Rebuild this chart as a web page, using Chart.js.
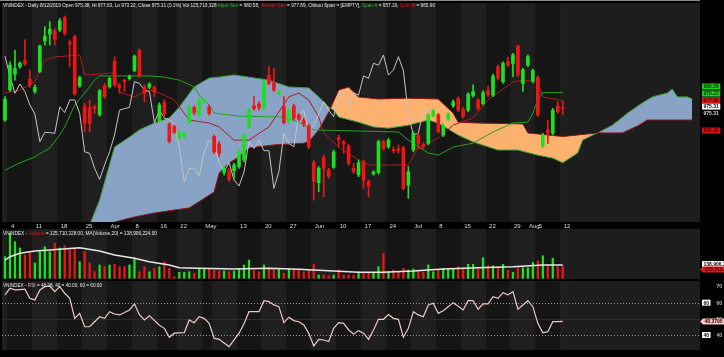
<!DOCTYPE html>
<html>
<head>
<meta charset="utf-8">
<script src="https://cdn.jsdelivr.net/npm/chart.js@4.4.1/dist/chart.umd.min.js"></script>
<style>
  html, body { margin: 0; padding: 0; background: #000; }
  #wrap { position: relative; width: 724px; height: 357px; overflow: hidden; background: #000; }
  canvas { position: absolute; left: 0; }
</style>
</head>
<body>
<div id="wrap">
  <canvas id="priceChart" width="724" height="229" style="top:0"></canvas>
  <canvas id="volChart" width="724" height="50" style="top:229px"></canvas>
  <canvas id="rsiChart" width="724" height="69" style="top:281px"></canvas>
</div>
<script>
// session index: 0 = 1 Mar 2019 ... 112 = 12 Aug 2019
const tickIdx  = [1, 6, 11, 16, 21, 26, 31, 35, 40, 47, 52, 57, 62, 67, 72, 77, 82, 87, 92, 97, 102, 105, 107, 112];
const tickText = ['4', '11', '18', '25', 'Apr', '8', '16', '22', 'May', '13', '20', '27', 'Jun', '10', '17', '24', 'Jul', '8', '15', '22', '29', 'Aug', '5', '12'];
const weekStarts = [0, 1, 6, 11, 16, 21, 26, 31, 35, 40, 42, 47, 52, 57, 62, 67, 72, 77, 82, 87, 92, 97, 102, 107, 112];

const opens = [
  971.4, 981.4, 986.7, 989.2, 991.2, 985.0, 980.9, 987.5, 997.8, 1000.0,
  1001.2, 1001.4, 1005.6, 997.2, 999.2, 982.7, 975.8, 975.6, 975.8, 973.1,
  982.9, 982.5, 990.9, 982.9, 984.7, 985.2, 987.9, 994.7, 982.3, 982.3,
  982.3, 971.2, 977.2, 970.1, 969.2, 965.6, 966.1, 970.5, 975.6, 973.1,
  977.5, 975.8, 965.9, 963.4, 953.9, 954.7, 954.5, 955.9, 958.1, 969.0,
  976.1, 976.7, 975.3, 986.4, 983.8, 980.1, 975.8, 970.9, 976.1, 973.1,
  971.2, 969.4, 957.2, 950.5, 958.9, 954.7, 955.6, 965.6, 964.2, 962.7,
  955.3, 953.1, 957.5, 950.9, 953.4, 953.9, 964.2, 962.5, 961.6, 961.8,
  962.2, 949.7, 961.4, 966.4, 963.1, 963.6, 972.7, 973.1, 966.4, 971.6,
  976.1, 978.6, 974.9, 974.7, 979.5, 978.1, 976.9, 981.2, 979.7, 989.2,
  984.2, 990.8, 990.3, 996.1, 983.6, 989.7, 984.5, 985.6, 962.7, 968.1,
  967.0, 976.1, 975.38
];
const highs = [
  979.2, 990.8, 994.7, 990.8, 998.1, 988.1, 983.1, 996.4, 1002.5, 1004.2,
  1002.0, 1005.3, 1006.1, 998.1, 999.7, 986.1, 977.0, 978.1, 976.4, 981.6,
  983.6, 985.8, 992.5, 983.6, 985.0, 986.4, 993.1, 995.0, 983.1, 983.8,
  982.7, 977.2, 978.1, 970.5, 969.7, 968.1, 967.5, 976.4, 976.1, 978.6,
  978.4, 976.4, 966.4, 964.2, 955.9, 955.3, 957.0, 961.4, 967.0, 975.3,
  979.2, 977.5, 984.7, 989.2, 988.6, 981.2, 979.2, 975.3, 976.7, 973.6,
  972.0, 970.1, 957.9, 955.9, 959.7, 955.3, 961.4, 966.4, 964.7, 963.4,
  957.0, 958.1, 958.1, 951.4, 954.5, 964.7, 964.7, 965.3, 962.5, 963.1,
  962.7, 955.9, 967.5, 967.0, 963.8, 973.6, 975.0, 973.6, 970.3, 973.8,
  978.1, 979.2, 975.6, 980.5, 983.1, 978.6, 981.2, 982.7, 986.7, 989.7,
  990.8, 992.3, 993.6, 996.4, 988.6, 993.1, 988.3, 986.1, 967.0, 971.4,
  975.3, 977.5, 977.63
];
const lows = [
  970.9, 980.9, 984.7, 988.6, 989.6, 982.3, 980.3, 987.2, 996.4, 996.4,
  996.4, 1000.9, 999.7, 989.2, 979.7, 982.3, 967.5, 967.5, 973.6, 972.7,
  978.6, 982.0, 982.5, 980.3, 980.9, 984.7, 987.5, 985.6, 977.5, 981.8,
  979.2, 970.5, 972.5, 963.8, 966.9, 964.7, 965.3, 970.1, 973.1, 972.5,
  977.2, 973.1, 960.3, 959.2, 953.1, 950.9, 952.0, 955.3, 957.5, 968.6,
  974.7, 974.7, 974.7, 983.1, 980.9, 979.7, 970.1, 970.3, 971.4, 971.2,
  969.2, 961.9, 944.7, 947.5, 945.8, 952.0, 955.3, 962.5, 960.3, 956.4,
  953.6, 952.5, 948.6, 945.8, 953.0, 953.4, 961.4, 961.9, 960.5, 960.3,
  948.1, 945.3, 960.8, 961.9, 961.9, 963.1, 972.3, 967.0, 965.9, 971.2,
  975.6, 974.2, 972.0, 974.2, 979.0, 974.7, 976.4, 979.2, 979.2, 984.7,
  983.6, 989.2, 985.8, 985.8, 980.9, 989.2, 983.8, 972.5, 962.3, 963.6,
  966.4, 973.6, 973.22
];
const closes = [
  978.3, 989.7, 988.6, 990.3, 990.0, 983.1, 982.3, 996.1, 999.4, 1001.7,
  998.3, 1004.5, 1000.3, 996.7, 980.1, 985.6, 970.3, 970.3, 975.3, 981.2,
  979.2, 985.3, 983.1, 982.3, 984.2, 986.1, 992.7, 986.1, 980.3, 983.4,
  980.9, 976.4, 973.4, 964.2, 967.3, 967.2, 967.0, 975.8, 973.9, 978.1,
  978.1, 973.6, 960.8, 960.3, 955.3, 951.6, 956.4, 960.8, 966.4, 974.7,
  975.2, 975.6, 984.2, 983.6, 981.4, 980.9, 970.5, 974.7, 972.0, 971.6,
  970.1, 962.5, 950.9, 955.3, 955.3, 952.7, 960.8, 964.7, 963.4, 957.0,
  954.2, 957.2, 951.4, 949.4, 954.1, 964.2, 961.9, 964.7, 961.2, 961.2,
  948.6, 954.2, 967.0, 963.6, 962.5, 973.1, 974.5, 967.5, 969.7, 973.4,
  977.5, 974.7, 972.5, 980.1, 980.9, 975.2, 980.5, 979.7, 986.1, 985.3,
  990.3, 989.7, 993.1, 986.4, 988.1, 992.5, 987.9, 973.1, 966.4, 967.0,
  974.7, 974.2, 975.31
];
// volume in millions of shares
const volumes = [
  227, 472, 384, 318, 245, 266, 161, 279, 332, 279,
  368, 318, 342, 318, 318, 174, 279, 161, 69, 140,
  122, 140, 147, 122, 122, 140, 213, 69, 122, 69,
  105, 122, 174, 105, 17, 63, 63, 69, 53, 105,
  105, 105, 87, 77, 77, 69, 77, 105, 140, 192,
  87, 69, 140, 105, 105, 105, 53, 98, 87, 87,
  69, 87, 147, 35, 35, 27, 35, 87, 35, 35,
  35, 69, 53, 53, 63, 122, 263, 69, 87, 69,
  105, 87, 98, 69, 63, 140, 69, 87, 105, 98,
  98, 122, 105, 147, 147, 111, 216, 132, 132, 122,
  147, 87, 63, 122, 111, 111, 168, 182, 237, 132,
  210, 122, 125.710328
];
const volMA = [[0, 192], [1, 227], [3, 263], [6, 287], [9, 297], [15, 321], [19, 287], [22, 245], [26, 210], [29, 174],
  [33, 140], [35, 111], [39, 105], [46, 98], [53, 105], [59, 95], [66, 77], [71, 63], [76, 63], [82, 77],
  [88, 98], [95, 111], [102, 122], [108, 140], [112, 138.906224]];

// ichimoku lines: [session, price]
const tenkan = [[0, 980.4], [3, 981.4], [6, 984.1], [7, 988.1], [8, 991.4], [10, 992.4], [15, 993.1], [16, 986.4], [22, 987.1], [23, 980.7],
  [26, 979.1], [29, 981.4], [31, 980.4], [34, 978.1], [37, 971.4], [41, 970.4], [43, 969.1], [46, 964.7], [49, 964.7], [53, 969.1],
  [57, 979.1], [59, 980.4], [61, 978.1], [63, 972.4], [64, 967.1], [67, 962.4], [71, 958.1], [73, 956.4], [81, 956.4], [83, 962.4],
  [85, 963.7], [87, 965.4], [90, 969.7], [94, 972.1], [97, 978.1], [102, 984.1], [104, 984.7], [107, 984.1], [108, 979.1], [112, 977.89]];
const kijun = [[0, 954.7], [3, 957.1], [6, 959.1], [9, 962.1], [11, 966.4], [12, 969.1], [14, 976.4], [16, 980.4], [18, 984.7], [19, 986.1],
  [29, 986.1], [32, 985.7], [35, 984.7], [38, 982.4], [39, 979.7], [41, 976.4], [42, 973.7], [47, 972.7], [56, 972.4], [59, 970.7],
  [62, 968.1], [79, 967.4], [81, 964.7], [85, 960.4], [87, 959.7], [90, 962.4], [94, 963.7], [98, 967.4], [102, 970.4], [105, 970.7],
  [106, 973.7], [107, 978.1], [108, 980.58], [112, 980.58]];
const spanA = [[17, 936.4], [19, 944.7], [22, 962.4], [25, 965.7], [27, 968.1], [30, 970.4], [33, 972.1], [35, 975.7], [38, 982.4], [41, 985.4],
  [43, 985.7], [46, 986.4], [53, 984.7], [57, 982.4], [61, 982.1], [63, 979.1], [65, 975.7], [66, 974.7], [67, 972.4], [71, 970.7],
  [74, 969.1], [77, 968.7], [81, 969.7], [85, 971.4], [87, 970.4], [91, 966.4], [94, 964.1], [99, 961.4], [103, 961.4], [107, 959.7],
  [110, 958.7], [112, 957.19], [115, 960.4], [116, 964.7], [118, 966.4], [119, 967.1], [122, 969.7], [125, 973.7], [128, 977.1], [130, 979.1],
  [133, 980.4], [134, 981.7], [135, 979.1], [137, 979.1], [138, 978.4]];
const spanB = [[17, 933.0], [22, 937.4], [26, 939.1], [30, 940.4], [34, 941.4], [37, 942.1], [42, 947.4], [43, 953.7], [45, 957.1], [47, 959.1],
  [49, 962.1], [54, 963.1], [60, 963.7], [61, 964.1], [63, 968.1], [65, 974.0], [67, 981.4], [69, 982.4], [71, 979.1], [75, 978.4],
  [81, 978.7], [87, 978.4], [90, 973.7], [91, 970.7], [95, 970.4], [104, 970.1], [105, 967.1], [112, 965.9], [119, 967.1], [124, 967.1],
  [127, 969.4], [129, 971.4], [138, 971.4]];

const rsi = [
  64.8, 68.9, 67.9, 68.1, 68.3, 62.7, 61.7, 67.9, 69.9, 70.3,
  66.8, 69.9, 65.8, 62.7, 50.3, 53.4, 45.1, 45.1, 48.2, 51.3,
  50.3, 54.4, 53.0, 52.4, 53.9, 55.5, 59.2, 52.5, 49.3, 51.8,
  49.0, 46.0, 44.1, 38.6, 41.1, 41.3, 41.4, 49.3, 47.6, 51.3,
  50.3, 47.2, 38.0, 37.3, 35.0, 32.8, 37.0, 41.1, 47.0, 54.4,
  54.4, 54.4, 61.2, 60.6, 58.6, 57.5, 47.6, 51.0, 48.9, 48.2,
  46.2, 41.0, 33.2, 37.3, 36.9, 35.9, 44.1, 47.6, 47.2, 43.1,
  40.6, 42.7, 41.1, 37.3, 43.1, 49.7, 49.7, 52.6, 50.3, 49.7,
  38.6, 44.1, 54.4, 52.4, 51.3, 58.6, 59.6, 53.4, 55.0, 57.5,
  60.0, 57.8, 55.5, 61.2, 61.2, 55.9, 59.2, 59.2, 63.7, 62.7,
  66.2, 64.8, 66.8, 55.9, 58.5, 61.2, 57.5, 47.2, 41.4, 42.0,
  48.2, 48.2, 48.3795
];
const rsiLevels = [40, 60];

const X_MIN = -0.6, X_MAX = 139.56;
const LIGHT = '#1f1f1f', DARK = '#151515', FUTURE = '#1d1d1d';
const UP = '#1fe01f', DOWN = '#ee1515';
const FONT = '"Liberation Sans", Arial, sans-serif';

const pt = arr => arr.map(([x, y]) => ({ x, y }));
const dirColors = closes.map((c, i) => (c >= opens[i] ? UP : DOWN));

/**
 * Draw a row of coloured text parts squeezed to a fixed width
 */
function drawRich(ctx, parts, x, y, width) {
  ctx.save();
  ctx.font = '6px ' + FONT;
  ctx.textBaseline = 'top';
  const total = parts.reduce((w, p) => w + ctx.measureText(p[0]).width, 0);
  ctx.translate(x, y);
  ctx.scale(width / total, 1);
  let cx = 0;
  parts.forEach(([t, c]) => {
    ctx.fillStyle = c;
    ctx.fillText(t, cx, 0);
    cx += ctx.measureText(t).width;
  });
  ctx.restore();
}

function drawTag(ctx, x, y, text, bg, fg, arrow) {
  ctx.save();
  ctx.font = 'bold 5px ' + FONT;
  ctx.textBaseline = 'middle';
  const w = ctx.measureText(text).width + 3;
  const x0 = arrow ? x + 3 : x;
  if (bg) {
    ctx.fillStyle = bg;
    ctx.beginPath();
    if (arrow) {
      ctx.moveTo(x, y); ctx.lineTo(x0, y - 3); ctx.lineTo(x0 + w, y - 3);
      ctx.lineTo(x0 + w, y + 3); ctx.lineTo(x0, y + 3); ctx.closePath();
    } else {
      ctx.rect(x0, y - 3, w, 6);
    }
    ctx.fill();
  }
  ctx.fillStyle = fg;
  ctx.fillText(text, x0 + 1.5, y + 0.5);
  ctx.restore();
}

// weekly stripes behind every panel
const bandsPlugin = {
  id: 'bands',
  beforeDraw(chart) {
    const { ctx, chartArea: a, scales: { x } } = chart;
    ctx.save();
    ctx.fillStyle = '#000';
    ctx.fillRect(0, 0, chart.width, chart.height);
    weekStarts.forEach((s, k) => {
      const e = weekStarts[k + 1] ?? closes.length;
      const x0 = Math.round(Math.max(a.left, x.getPixelForValue(s - 0.5)));
      const x1 = Math.round(x.getPixelForValue(e - 0.5));
      ctx.fillStyle = k % 2 ? DARK : LIGHT;
      ctx.fillRect(x0, a.top, x1 - x0, a.bottom - a.top);
    });
    const xf = Math.round(x.getPixelForValue(closes.length - 0.5));
    ctx.fillStyle = FUTURE;
    ctx.fillRect(xf, a.top, a.right - xf, a.bottom - a.top);
    ctx.restore();
  }
};

function captionPlugin(parts, width, y) {
  return { id: 'caption', afterDraw(chart) { drawRich(chart.ctx, parts, 3, y, width); } };
}

function tagsPlugin(tags, gap) {
  return {
    id: 'tags',
    afterDraw(chart) {
      const { ctx, scales: { y } } = chart;
      let last = -Infinity;
      tags.forEach(t => {
        let py = y.getPixelForValue(t.v) + (t.dy || 0);
        if (t.stack) { py = Math.max(py, last + gap); last = py; }
        drawTag(ctx, t.x, py, t.text, t.bg, t.fg, t.arrow);
      });
    }
  };
}

function baseOptions(yMin, yMax, withAxis) {
  return {
    responsive: false,
    animation: false,
    devicePixelRatio: 1,
    events: [],
    layout: { padding: { left: 2, top: withAxis ? 3 : 0, right: 0, bottom: 0 } },
    plugins: { legend: { display: false }, tooltip: { enabled: false } },
    scales: {
      x: withAxis ? {
        type: 'linear', min: X_MIN, max: X_MAX, offset: false,
        afterBuildTicks: s => { s.ticks = tickIdx.map(v => ({ value: v })); },
        afterFit: s => { s.height = 7; },
        ticks: {
          autoSkip: false, maxRotation: 0, align: 'start', padding: 1, labelOffset: 1,
          color: '#dcdcdc', font: { family: FONT, size: 6 },
          callback: v => tickText[tickIdx.indexOf(v)] ?? ''
        },
        grid: { display: false, drawTicks: false },
        border: { display: false }
      } : { type: 'linear', min: X_MIN, max: X_MAX, offset: false, display: false },
      y: {
        position: 'right', min: yMin, max: yMax,
        afterFit: s => { s.width = 24; },
        ticks: { display: false },
        grid: { display: false, drawTicks: false },
        border: { display: false }
      }
    }
  };
}

const lineDs = (data, color, order, extra) => Object.assign({
  type: 'line', data: pt(data), borderColor: color, borderWidth: 1,
  pointRadius: 0, tension: 0, fill: false, order
}, extra || {});

// price panel: cloud, lines, candles
new Chart(document.getElementById('priceChart'), {
  type: 'bar',
  data: {
    datasets: [
      lineDs(spanA, '#3aa83a', 10, { fill: { target: '+1', above: '#88a3c6', below: '#fdb16e' } }),
      lineDs(spanB, '#8c1515', 9),
      lineDs(kijun, '#23a023', 5),
      lineDs(tenkan, '#a81e1e', 5),
      {
        type: 'line', data: closes.slice(26).map((c, k) => ({ x: k, y: c })),
        borderColor: '#c4c4c4', borderWidth: 1, pointRadius: 0, tension: 0, fill: false, order: 4
      },
      {
        data: closes.map((c, i) => ({ x: i, y: [lows[i], highs[i]] })),
        backgroundColor: dirColors, barThickness: 1, grouped: false, borderWidth: 0, order: 2
      },
      {
        data: closes.map((c, i) => ({ x: i, y: [opens[i], c] })),
        backgroundColor: dirColors, barThickness: 3, grouped: false, borderWidth: 0, minBarLength: 1, order: 1
      }
    ]
  },
  options: baseOptions(937.41, 1010.41, true),
  plugins: [
    bandsPlugin,
    {
      id: 'topLine',
      afterDraw(chart) { chart.ctx.fillStyle = '#8a8a8a'; chart.ctx.fillRect(0, 0, chart.chartArea.right, 1); }
    },
    captionPlugin([
      ['VNINDEX - Daily 8/12/2019 Open 975.38, Hi 977.63, Lo 973.22, Close 975.31 (0.1%) Vol 125,710,328 ', '#e8e8e8'],
      ['Kijun-Sen', '#22c022'], [' = 980.58, ', '#e8e8e8'],
      ['Tenkan-Sen', '#e01818'], [' = 977.89, Chikou Span = [EMPTY], ', '#e8e8e8'],
      ['Span A', '#22c022'], [' = 957.19, ', '#e8e8e8'],
      ['Span B', '#e01818'], [' = 965.90', '#e8e8e8']
    ], 432, 2),
    tagsPlugin([
      { v: 980.58, dy: -6, stack: true, x: 702, text: '980.58', bg: '#1ed01e', fg: '#063006' },
      { v: 978.23, dy: -6, stack: true, x: 702, text: '978.23', bg: '#1ed01e', fg: '#063006' },
      { v: 977.89, dy: -6, stack: true, x: 702, text: '977.89', bg: '#e01414', fg: '#400000' },
      { v: 975.31, dy: -6, stack: true, x: 702, text: '975.31', bg: '#ffffff', fg: '#000' },
      { v: 975.31, dy: -6, stack: true, x: 702, text: '975.31', bg: null, fg: '#d8d8d8' },
      { v: 965.90, dy: -6, stack: true, x: 702, text: '965.90', bg: '#e01414', fg: '#400000' }
    ], 6.5)
  ]
});

// volume panel
new Chart(document.getElementById('volChart'), {
  type: 'bar',
  data: {
    datasets: [
      lineDs(volMA, '#e6e6e6', 1, { borderWidth: 1.5 }),
      {
        data: volumes.map((v, i) => ({ x: i, y: v })),
        backgroundColor: dirColors, barThickness: 1.6, grouped: false, borderWidth: 0, order: 2
      }
    ]
  },
  options: baseOptions(-7.35, 517.65, false),
  plugins: [
    bandsPlugin,
    captionPlugin([
      ['VNINDEX - ', '#e8e8e8'], ['Volume', '#e01818'],
      [' = 125,710,328.00, MA(Volume,20) = 138,906,224.00', '#e8e8e8']
    ], 154, 1),
    tagsPlugin([
      { v: 138.906224, dy: -1, stack: true, x: 702, text: '138,906.2', bg: '#ffffff', fg: '#000' },
      { v: 125.710328, stack: true, x: 700, text: '125,710.3', bg: '#e01414', fg: '#400000', arrow: true }
    ], 5.5)
  ]
});

// RSI panel
new Chart(document.getElementById('rsiChart'), {
  type: 'line',
  data: {
    datasets: [{
      data: rsi.map((v, i) => ({ x: i, y: v })),
      borderColor: '#ecc8c8', borderWidth: 1.2, pointRadius: 0, tension: 0, fill: false
    }]
  },
  options: baseOptions(30.7, 73.4, false),
  plugins: [
    bandsPlugin,
    {
      id: 'levels',
      beforeDatasetsDraw(chart) {
        const { ctx, chartArea: a, scales: { y } } = chart;
        ctx.save();
        ctx.lineWidth = 1;
        ctx.strokeStyle = '#2e2e2e';
        const p50 = Math.round(y.getPixelForValue(50)) + 0.5;
        ctx.beginPath(); ctx.moveTo(a.left, p50); ctx.lineTo(a.right, p50); ctx.stroke();
        ctx.setLineDash([1, 2]);
        ctx.strokeStyle = '#9a9a9a';
        rsiLevels.forEach(v => {
          const py = Math.round(y.getPixelForValue(v)) + 0.5;
          ctx.beginPath(); ctx.moveTo(a.left, py); ctx.lineTo(a.right, py); ctx.stroke();
        });
        ctx.restore();
      }
    },
    captionPlugin([
      ['VNINDEX - ', '#e8e8e8'], ['RSI', '#f0b8b8'],
      [' = 48.38, 40 = 40.00, 60 = 60.00', '#e8e8e8']
    ], 99, 1),
    tagsPlugin([
      { v: 70, x: 715, text: '70', bg: null, fg: '#bbbbbb' },
      { v: 60, x: 702, text: '60', bg: '#ffffff', fg: '#000' },
      { v: 60, x: 715, text: '60', bg: null, fg: '#bbbbbb' },
      { v: 50, x: 715, text: '50', bg: null, fg: '#bbbbbb' },
      { v: 40, x: 702, text: '40', bg: '#ffffff', fg: '#000' },
      { v: 40, x: 715, text: '40', bg: null, fg: '#bbbbbb' },
      { v: 48.3795, x: 700, text: '48.3795', bg: '#f4c8c8', fg: '#400000', arrow: true }
    ], 0)
  ]
});
</script>
</body>
</html>
